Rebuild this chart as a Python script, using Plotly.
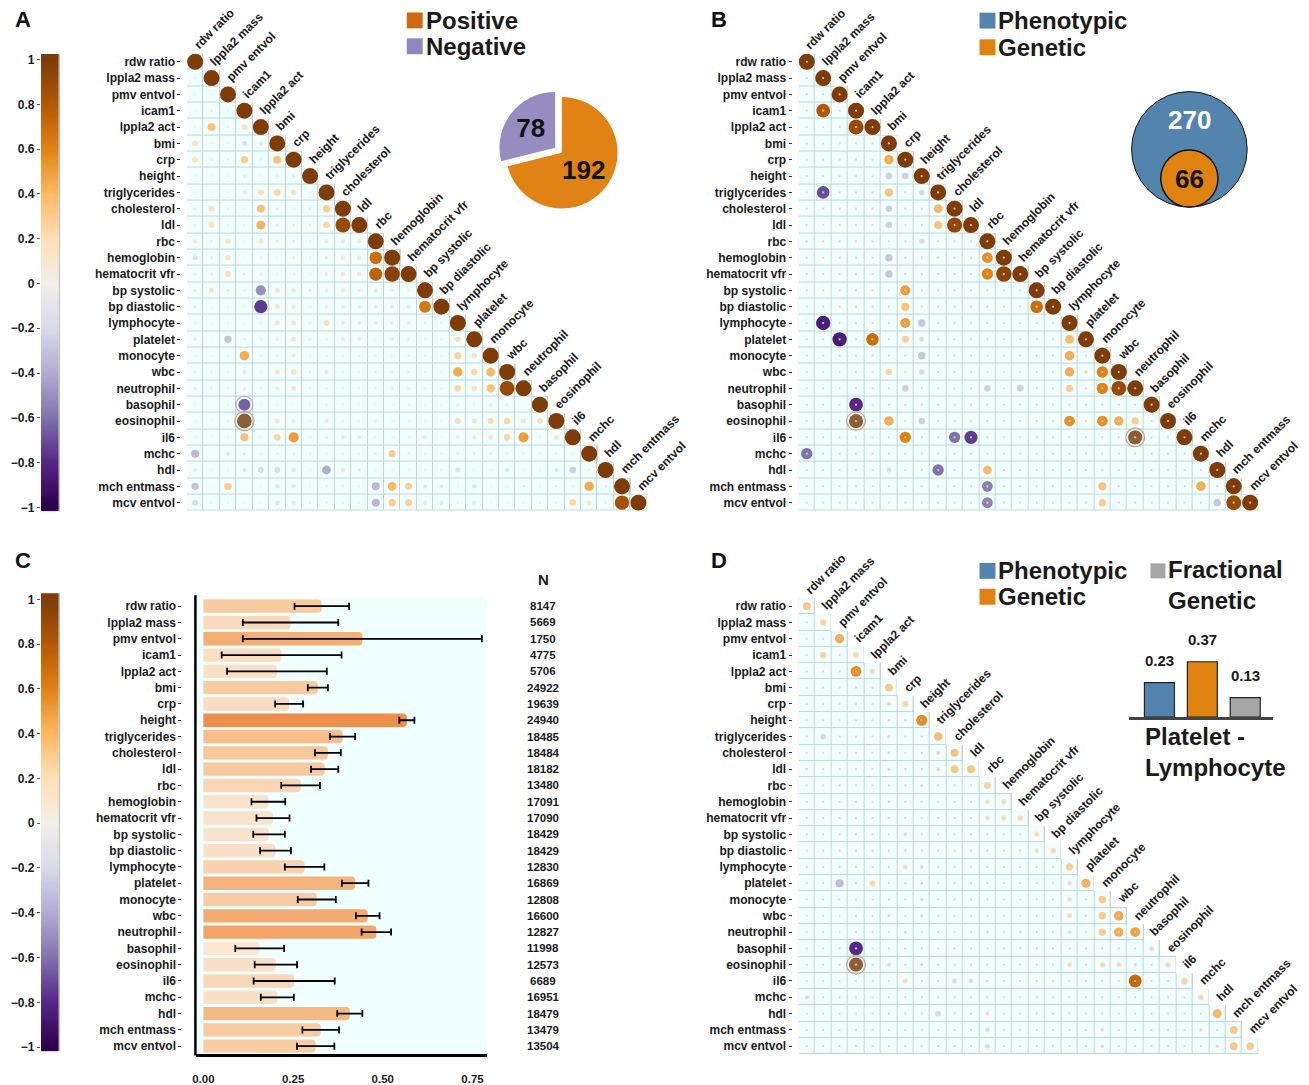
import numpy as np
import plotly.graph_objects as go

W, H = 1309, 1085

TRAITS = ["rdw ratio", "lppla2 mass", "pmv entvol", "icam1", "lppla2 act", "bmi", "crp",
          "height", "triglycerides", "cholesterol", "ldl", "rbc", "hemoglobin",
          "hematocrit vfr", "bp systolic", "bp diastolic", "lymphocyte", "platelet",
          "monocyte", "wbc", "neutrophil", "basophil", "eosinophil", "il6", "mchc", "hdl",
          "mch entmass", "mcv entvol"]

# Phenotypic correlations, lower triangle (row i holds columns 0..i)
PHENO_CORR = [
    [1],
    [0.02, 1],
    [0.02, 0.02, 1],
    [0.02, 0.04, 0.02, 1],
    [0.02, 0.35, 0.02, 0.2, 1],
    [0.2, 0.02, 0.02, -0.15, 0.12, 1],
    [0.2, -0.04, 0.02, 0.3, 0.04, 0.35, 1],
    [0.02, 0.02, 0.02, -0.08, 0.02, -0.06, -0.06, 1],
    [0.02, 0.02, 0.02, 0.1, 0.2, 0.25, 0.18, 0.02, 1],
    [-0.04, 0.2, 0.02, 0.02, 0.35, 0.05, 0.02, -0.05, 0.3, 1],
    [0.02, 0.2, 0.02, 0.02, 0.42, 0.08, 0.05, -0.05, 0.25, 0.9, 1],
    [0.12, 0.07, 0.18, 0.02, 0.15, 0.07, 0.06, 0.02, 0.1, 0.1, 0.1, 1],
    [-0.15, 0.07, 0.18, 0.02, 0.06, 0.02, -0.04, 0.02, 0.1, 0.12, 0.12, 0.7, 1],
    [-0.06, 0.07, 0.2, 0.06, 0.06, 0.03, 0.03, 0.02, 0.1, 0.12, 0.12, 0.75, 0.95, 1],
    [0.07, 0.15, 0.07, 0.07, -0.5, 0.15, 0.12, -0.05, 0.1, 0.1, 0.06, 0.1, 0.04, 0.04, 1],
    [0.07, 0.02, 0.02, 0.02, -0.75, 0.15, 0.12, 0.02, 0.1, 0.1, 0.08, 0.1, 0.12, 0.12, 0.65, 1],
    [0.02, 0.02, 0.02, 0.02, 0.02, 0.15, 0.15, -0.06, 0.2, 0.1, 0.1, 0.1, 0.08, 0.08, 0.04,
     0.04, 1],
    [0.08, 0.02, -0.3, -0.06, 0.03, 0.07, 0.15, -0.06, 0.03, 0.1, 0.1, 0.02, -0.06, -0.05,
     0.04, 0.06, 0.2, 1],
    [0.03, 0.02, 0.02, 0.45, 0.04, 0.06, 0.1, 0.02, 0.03, 0.03, 0.03, 0.04, 0.04, 0.06, 0.06,
     0.03, 0.28, 0.18, 1],
    [0.08, 0.06, 0.02, 0.1, 0.03, 0.15, 0.2, -0.04, 0.12, 0.02, 0.02, 0.07, 0.07, 0.06, 0.06,
     0.03, 0.45, 0.25, 0.4, 1],
    [0.08, 0.07, 0.02, 0.08, 0.02, 0.1, 0.15, 0.02, 0.06, 0.02, 0.02, 0.06, 0.06, 0.06, 0.06,
     0.03, 0.25, 0.18, 0.35, 0.9, 1],
    [0.02, 0.02, 0.02, -0.65, 0.02, 0.02, 0.02, 0.02, 0.06, 0.04, 0.02, 0.02, 0.02, 0.04,
     0.02, 0.02, 0.08, 0.02, 0.1, 0.06, 0.02, 1],
    [0.03, 0.02, 0.02, 0.85, 0.02, 0.15, 0.1, 0.02, 0.12, 0.02, 0.02, 0.04, 0.02, 0.02, 0.02,
     0.02, 0.22, 0.15, 0.22, 0.25, 0.15, 0.2, 1],
    [0.02, 0.02, 0.02, 0.35, 0.02, 0.25, 0.5, 0.02, 0.08, -0.1, -0.1, 0.02, 0.02, 0.02, 0.1,
     0.02, 0.08, 0.1, 0.15, 0.25, 0.5, 0.02, 0.15, 1],
    [-0.35, 0.02, -0.1, -0.07, 0.05, 0.05, 0.05, 0.02, 0.03, 0.03, 0.03, 0.06, 0.3, -0.04,
     0.02, 0.02, 0.06, -0.06, -0.04, -0.04, -0.04, 0.02, -0.04, 0.02, 1],
    [-0.08, 0.03, 0.02, -0.1, -0.2, -0.2, -0.12, 0.02, -0.4, 0.12, -0.08, 0.02, 0.02, 0.02,
     0.02, -0.03, -0.15, 0.02, 0.03, -0.12, 0.02, 0.02, -0.1, -0.25, 0.03, 1],
    [-0.3, 0.02, 0.3, 0.02, 0.02, -0.12, -0.1, 0.02, -0.04, 0.06, 0.02, -0.35, 0.4, 0.28,
     -0.1, -0.1, 0.02, -0.12, 0.02, -0.04, -0.04, 0.02, -0.04, 0.05, 0.45, 0.06, 1],
    [-0.2, 0.02, 0.02, 0.02, 0.02, -0.12, -0.1, 0.02, -0.04, 0.05, 0.02, -0.35, 0.3, 0.28,
     -0.1, -0.1, 0.02, -0.1, 0.02, 0.02, 0.02, -0.04, -0.04, 0.25, 0.12, 0.02, 0.85, 1],
]
PHENO_RINGS = [("basophil", "icam1"), ("eosinophil", "icam1")]

POSITIVE_PAIRS = 192
NEGATIVE_PAIRS = 78

# Significant genetic correlations (row trait, column trait, r)
GENETIC_SIG = [
    ("icam1", "lppla2 mass", 0.8), ("lppla2 act", "icam1", 0.9), ("crp", "bmi", 0.45),
    ("height", "bmi", -0.25), ("height", "crp", -0.25),
    ("triglycerides", "lppla2 mass", -0.7), ("triglycerides", "bmi", 0.35),
    ("triglycerides", "height", -0.18),
    ("cholesterol", "bmi", -0.25), ("cholesterol", "triglycerides", 0.4),
    ("ldl", "bmi", -0.25), ("ldl", "triglycerides", 0.35), ("ldl", "cholesterol", 0.92),
    ("rbc", "height", -0.18),
    ("hemoglobin", "bmi", -0.3), ("hemoglobin", "rbc", 0.55),
    ("hematocrit vfr", "bmi", -0.3), ("hematocrit vfr", "rbc", 0.6),
    ("hematocrit vfr", "hemoglobin", 0.95),
    ("bp systolic", "crp", 0.5),
    ("bp diastolic", "crp", 0.35), ("bp diastolic", "bp systolic", 0.7),
    ("lymphocyte", "lppla2 mass", -0.85), ("lymphocyte", "crp", 0.5),
    ("lymphocyte", "height", -0.3),
    ("platelet", "pmv entvol", -0.85), ("platelet", "lppla2 act", 0.7), ("platelet", "crp", 0.28),
    ("platelet", "height", -0.15), ("platelet", "lymphocyte", 0.4),
    ("monocyte", "height", -0.3), ("monocyte", "lymphocyte", 0.45),
    ("wbc", "bmi", 0.25), ("wbc", "height", -0.18), ("wbc", "lymphocyte", 0.45),
    ("wbc", "platelet", 0.12), ("wbc", "monocyte", 0.6),
    ("neutrophil", "crp", -0.25), ("neutrophil", "rbc", -0.25),
    ("neutrophil", "hematocrit vfr", -0.25), ("neutrophil", "lymphocyte", 0.3),
    ("neutrophil", "monocyte", 0.6), ("neutrophil", "wbc", 0.9),
    ("basophil", "icam1", -0.8),
    ("eosinophil", "icam1", 0.8), ("eosinophil", "bmi", 0.45), ("eosinophil", "height", -0.25),
    ("eosinophil", "lymphocyte", 0.55), ("eosinophil", "monocyte", 0.55),
    ("eosinophil", "wbc", 0.45), ("eosinophil", "neutrophil", 0.3),
    ("il6", "crp", 0.6), ("il6", "cholesterol", -0.6), ("il6", "ldl", -0.75),
    ("il6", "neutrophil", 0.8),
    ("mchc", "rdw ratio", -0.6),
    ("hdl", "bmi", -0.15), ("hdl", "triglycerides", -0.6), ("hdl", "rbc", 0.4),
    ("mch entmass", "rbc", -0.55), ("mch entmass", "monocyte", 0.35),
    ("mch entmass", "mchc", 0.45),
    ("mcv entvol", "rbc", -0.55), ("mcv entvol", "monocyte", 0.3), ("mcv entvol", "hdl", -0.3),
    ("mcv entvol", "mch entmass", 0.9),
]
GENETIC_RINGS = [("eosinophil", "icam1"), ("il6", "neutrophil")]
PHENO_SIG = 270

# SNP heritability, standard error and sample size per trait
H2 = [0.33, 0.243, 0.443, 0.218, 0.205, 0.319, 0.239, 0.567, 0.388, 0.347, 0.338, 0.271,
      0.181, 0.194, 0.183, 0.201, 0.282, 0.423, 0.316, 0.458, 0.482, 0.157, 0.202, 0.253,
      0.206, 0.408, 0.327, 0.313]
H2_SE = [0.076, 0.133, 0.333, 0.167, 0.139, 0.028, 0.039, 0.021, 0.035, 0.036, 0.038, 0.054,
         0.047, 0.046, 0.044, 0.043, 0.055, 0.037, 0.053, 0.033, 0.041, 0.068, 0.059, 0.113,
         0.046, 0.035, 0.051, 0.052]
N_SAMPLES = [8147, 5669, 1750, 4775, 5706, 24922, 19639, 24940, 18485, 18484, 18182, 13480,
             17091, 17090, 18429, 18429, 12830, 16869, 12808, 16600, 12827, 11998, 12573, 6689,
             16951, 18479, 13479, 13504]

# Genetic contribution to the phenotypic correlations
FRACTION_SIG = [
    ("icam1", "lppla2 mass", 0.25), ("lppla2 act", "icam1", 0.55), ("crp", "bmi", 0.14),
    ("height", "bmi", -0.05), ("height", "crp", -0.05),
    ("triglycerides", "lppla2 mass", -0.2), ("triglycerides", "bmi", 0.1),
    ("triglycerides", "height", -0.05),
    ("cholesterol", "bmi", -0.06), ("cholesterol", "triglycerides", 0.14),
    ("ldl", "bmi", -0.06), ("ldl", "triglycerides", 0.12), ("ldl", "cholesterol", 0.33),
    ("rbc", "height", -0.05),
    ("hemoglobin", "bmi", -0.06), ("hemoglobin", "rbc", 0.15),
    ("hematocrit vfr", "bmi", -0.06), ("hematocrit vfr", "rbc", 0.15),
    ("hematocrit vfr", "hemoglobin", 0.18),
    ("bp systolic", "crp", 0.1),
    ("bp diastolic", "crp", 0.08), ("bp diastolic", "bp systolic", 0.15),
    ("lymphocyte", "crp", 0.15), ("lymphocyte", "height", -0.1),
    ("platelet", "pmv entvol", -0.35), ("platelet", "lppla2 act", 0.22),
    ("platelet", "crp", 0.07), ("platelet", "height", -0.06), ("platelet", "lymphocyte", 0.15),
    ("monocyte", "height", -0.08), ("monocyte", "lymphocyte", 0.15),
    ("wbc", "bmi", 0.1), ("wbc", "height", -0.06), ("wbc", "lymphocyte", 0.18),
    ("wbc", "platelet", 0.05), ("wbc", "monocyte", 0.3),
    ("neutrophil", "crp", -0.06), ("neutrophil", "rbc", -0.06),
    ("neutrophil", "hematocrit vfr", -0.06), ("neutrophil", "lymphocyte", 0.12),
    ("neutrophil", "monocyte", 0.3), ("neutrophil", "wbc", 0.45),
    ("basophil", "icam1", -0.8),
    ("eosinophil", "icam1", 0.8), ("eosinophil", "bmi", 0.12), ("eosinophil", "height", -0.06),
    ("eosinophil", "lymphocyte", 0.15), ("eosinophil", "monocyte", 0.18),
    ("eosinophil", "wbc", 0.15), ("eosinophil", "neutrophil", 0.08),
    ("il6", "crp", 0.15), ("il6", "cholesterol", -0.15), ("il6", "ldl", -0.15),
    ("il6", "neutrophil", 0.72),
    ("mchc", "rdw ratio", -0.12),
    ("hdl", "bmi", -0.05), ("hdl", "triglycerides", -0.2), ("hdl", "rbc", 0.12),
    ("mch entmass", "rbc", -0.15), ("mch entmass", "monocyte", 0.1),
    ("mch entmass", "mchc", 0.1),
    ("mcv entvol", "rbc", -0.15), ("mcv entvol", "monocyte", 0.1), ("mcv entvol", "hdl", -0.08),
    ("mcv entvol", "mch entmass", 0.33),
]
FRACTION_RINGS = [("eosinophil", "icam1")]

PAIR_LABELS = ["Phenotypic", "Genetic", "Fractional Genetic"]
PAIR_VALUES = [0.23, 0.37, 0.13]
PAIR_NAME = "Platelet -<br>Lymphocyte"

# ---------------------------------------------------------------- styling
FONT = "Liberation Sans, Arial, sans-serif"
INK = "#1a1a1a"
GRID_LINE = "#C8D4D4"
CELL_FILL = "#F0FFFF"
PUOR = [[0.0, "#2D004B"], [0.1, "#542788"], [0.2, "#8073AC"], [0.3, "#B2ABD2"],
        [0.4, "#D8DAEB"], [0.5, "#F2EEEA"], [0.6, "#FEE0B6"], [0.7, "#FDB863"],
        [0.8, "#E08214"], [0.9, "#B35806"], [1.0, "#7F3B08"]]
BAR_SCALE = [[0.0, "#FBE8D6"], [0.25, "#F9D7B6"], [0.5, "#F7C28F"], [0.75, "#F4A264"],
             [1.0, "#EE8640"]]
BLUE, ORANGE, GREY = "#5384AD", "#E0820F", "#A6A6A6"
RING_BROWN = "#8E5D36"
CB_TICKS = [-1, -0.8, -0.6, -0.4, -0.2, 0, 0.2, 0.4, 0.6, 0.8, 1]
CB_TEXT = ["−1", "−0.8", "−0.6", "−0.4", "−0.2", "0", "0.2", "0.4", "0.6", "0.8", "1"]

NT = len(TRAITS)
IDX = {t: i for i, t in enumerate(TRAITS)}


def px_x(x):
    return x / W


def px_y(y):
    return 1 - y / H


def axname(prefix, k):
    return prefix if k == 1 else f"{prefix}{k}"


def dot_size(r):
    return 1.5 + 14.5 * abs(r) ** 0.75


def bold(size, color=INK):
    return dict(family=FONT, size=size, color=color, weight="bold")


def paper_text(x, y, text, size, color=INK, xanchor="center", align="center"):
    annotations.append(dict(x=px_x(x), y=px_y(y), xref="paper", yref="paper", text=text,
                            xanchor=xanchor, yanchor="middle", align=align,
                            showarrow=False, font=bold(size, color)))


fig = go.Figure()
shapes = []
annotations = []


def add_matrix(k, cells, rings, tiny, x0, x1, y0, y1, label_x):
    xa, ya = axname("x", k), axname("y", k)
    mask = [[1 if j <= i else None for j in range(NT)] for i in range(NT)]
    for color, gap in ((GRID_LINE, 0), (CELL_FILL, 1)):
        fig.add_trace(go.Heatmap(z=mask, x=list(range(NT)), y=list(range(NT)), zmin=0, zmax=1,
                                 colorscale=[[0, color], [1, color]], showscale=False,
                                 xgap=gap, ygap=gap, hoverinfo="skip", xaxis=xa, yaxis=ya))
    rows = [c[0] for c in cells]
    cols = [c[1] for c in cells]
    vals = [c[2] for c in cells]
    fig.add_trace(go.Scatter(
        x=cols, y=rows, mode="markers", hoverinfo="skip", xaxis=xa, yaxis=ya,
        marker=dict(color=vals, colorscale=PUOR, cmin=-1, cmax=1, opacity=1,
                    size=[dot_size(v) for v in vals], line=dict(width=0))))
    lookup = {(c[0], c[1]): c[2] for c in cells}
    for rname, cname in rings:
        r, c = IDX[rname], IDX[cname]
        v = lookup[(r, c)]
        if v > 0:
            # highlighted positive pairs are shown in a muted brown
            fig.add_trace(go.Scatter(
                x=[c], y=[r], mode="markers", hoverinfo="skip", xaxis=xa, yaxis=ya,
                marker=dict(size=dot_size(v), color=RING_BROWN, opacity=1,
                            line=dict(width=0))))
        fig.add_trace(go.Scatter(
            x=[c], y=[r], mode="markers", hoverinfo="skip", xaxis=xa, yaxis=ya,
            marker=dict(symbol="circle-open", size=dot_size(v) + 5, opacity=1,
                        color="#B3A6D6" if v < 0 else "#BFA890", line=dict(width=1.2))))
    if tiny:
        tx = [j for i in range(NT) for j in range(i + 1)]
        ty = [i for i in range(NT) for j in range(i + 1)]
        fig.add_trace(go.Scatter(x=tx, y=ty, mode="markers", hoverinfo="skip",
                                 xaxis=xa, yaxis=ya,
                                 marker=dict(size=2.2, opacity=1,
                                             color="rgba(238,200,192,0.95)")))
    fig.update_layout({
        axname("xaxis", k): dict(domain=[px_x(x0), px_x(x1)], range=[-0.5, NT - 0.5],
                                 visible=False, anchor=ya),
        axname("yaxis", k): dict(domain=[px_y(y1), px_y(y0)], range=[NT - 0.5, -0.5],
                                 anchor="free", position=px_x(label_x),
                                 tickvals=list(range(NT)), ticktext=TRAITS,
                                 ticks="outside", ticklen=3, tickcolor="#333",
                                 showgrid=False, zeroline=False, showline=False,
                                 tickfont=bold(12)),
    })
    for j, name in enumerate(TRAITS):
        annotations.append(dict(x=j - 0.42, y=j - 0.42, xref=xa, yref=ya, text=name,
                                textangle=-45, xanchor="left", yanchor="bottom",
                                showarrow=False, font=bold(12)))


def add_colorbar(k, y_top, y_bot, v_top, v_bot):
    xa, ya = axname("x", k), axname("y", k)
    lv = np.linspace(v_bot, v_top, 420)
    fig.add_trace(go.Heatmap(z=[[float(np.clip(v, -1, 1))] for v in lv], x=[0], y=lv,
                             zmin=-1, zmax=1, colorscale=PUOR, showscale=False,
                             hoverinfo="skip", xaxis=xa, yaxis=ya))
    fig.update_layout({
        axname("xaxis", k): dict(domain=[px_x(37), px_x(55)], range=[-0.5, 0.5],
                                 visible=False, anchor=ya),
        axname("yaxis", k): dict(domain=[px_y(y_bot), px_y(y_top)], range=[v_bot, v_top],
                                 anchor=xa, side="left", tickvals=CB_TICKS, ticktext=CB_TEXT,
                                 ticks="outside", ticklen=3, tickcolor="#555",
                                 showgrid=False, zeroline=False, showline=False,
                                 tickfont=bold(12)),
    })
    shapes.append(dict(type="line", xref="paper", yref="paper", x0=px_x(55.5), x1=px_x(55.5),
                       y0=px_y(y_top), y1=px_y(y_bot), line=dict(color="#B8B0A8", width=1)))


def legend_entry(x, y, color, text):
    shapes.append(dict(type="rect", xref="paper", yref="paper", x0=px_x(x), x1=px_x(x + 16),
                       y0=px_y(y + 8), y1=px_y(y - 8), fillcolor=color, line=dict(width=0)))
    paper_text(x + 17, y, text, 24, xanchor="left", align="left")


# ---------------------------------------------------------------- A: phenotypic
pheno_cells = [(i, j, v) for i, row in enumerate(PHENO_CORR) for j, v in enumerate(row)]
add_matrix(1, pheno_cells, PHENO_RINGS, False, 183.5, 644.6, 52.8, 512.2, 177)
add_colorbar(5, 53.3, 512.7, 1.025, -1.018)

fig.add_trace(go.Pie(
    values=[POSITIVE_PAIRS, NEGATIVE_PAIRS], labels=["Positive", "Negative"], sort=False,
    direction="clockwise", rotation=0, pull=[0, 0.15],
    marker=dict(colors=["#E08214", "#978CC2"], line=dict(width=0)),
    textinfo="value", textposition="inside", insidetextorientation="horizontal",
    textfont=bold(26, "#111"), hoverinfo="skip", showlegend=False,
    domain=dict(x=[px_x(559.5 - 64.4), px_x(559.5 + 64.4)],
                y=[px_y(152.5 + 64.4), px_y(152.5 - 64.4)])))
legend_entry(404, 19.5, "#CC6A0E", "Positive")
legend_entry(404, 45.5, "#8F88C0", "Negative")

# ---------------------------------------------------------------- B: genetic
gen_cells = [(i, i, 1.0) for i in range(NT)] + \
            [(IDX[a], IDX[b], v) for a, b, v in GENETIC_SIG]
add_matrix(2, gen_cells, GENETIC_RINGS, True, 797, 1258.2, 52.8, 512.2, 790)
legend_entry(978.5, 19.7, BLUE, "Phenotypic")
legend_entry(978.5, 46.5, ORANGE, "Genetic")

big_r = 58
small_r = big_r * np.sqrt(len(GENETIC_SIG) / PHENO_SIG)
vcx, vcy = 1189, 149
shapes.append(dict(type="circle", xref="paper", yref="paper",
                   x0=px_x(vcx - big_r), x1=px_x(vcx + big_r),
                   y0=px_y(vcy + big_r), y1=px_y(vcy - big_r),
                   fillcolor=BLUE, line=dict(color="#111", width=1)))
scy = vcy + big_r - small_r
shapes.append(dict(type="circle", xref="paper", yref="paper",
                   x0=px_x(vcx - small_r), x1=px_x(vcx + small_r),
                   y0=px_y(scy + small_r), y1=px_y(scy - small_r),
                   fillcolor=ORANGE, line=dict(color="#111", width=1.5)))
paper_text(vcx, 120, str(PHENO_SIG), 26, "white")
paper_text(vcx, scy + 1, str(len(GENETIC_SIG)), 26, "#111")

# ---------------------------------------------------------------- C: heritability
rows_idx = list(range(NT))
fig.add_trace(go.Bar(
    x=H2, y=rows_idx, orientation="h", width=0.82, xaxis="x3", yaxis="y3", hoverinfo="skip",
    marker=dict(color=H2, colorscale=BAR_SCALE, cmin=0.15, cmax=0.6, cornerradius=4,
                line=dict(width=0)),
    error_x=dict(type="data", array=H2_SE, color="black", thickness=1.8, width=3.5)))
fig.update_layout(
    xaxis3=dict(domain=[px_x(193), px_x(484)], range=[-0.0194, 0.789], anchor="y3",
                tickvals=[0, 0.25, 0.5, 0.75], ticktext=["0.00", "0.25", "0.50", "0.75"],
                ticks="outside", ticklen=12, tickcolor="rgba(0,0,0,0)",
                showline=True, linewidth=2.5, linecolor="black",
                showgrid=False, zeroline=False, tickfont=bold(11.5)),
    yaxis3=dict(domain=[px_y(1058.2), px_y(599.8)], range=[NT - 0.5, -0.5],
                anchor="free", position=px_x(178), tickvals=rows_idx, ticktext=TRAITS,
                ticks="outside", ticklen=3, tickcolor="#333", showgrid=False,
                zeroline=False, showline=False, tickfont=bold(12)),
)
shapes.append(dict(type="rect", xref="x3 domain", yref="y3 domain", x0=0, x1=1, y0=0, y1=1,
                   fillcolor=CELL_FILL, line=dict(width=0), layer="below"))
shapes.append(dict(type="line", xref="paper", yref="paper", x0=px_x(192), x1=px_x(192),
                   y0=px_y(597), y1=px_y(1059.5), line=dict(color="black", width=2.5)))
add_colorbar(6, 595, 1055, 1.027, -1.018)
paper_text(541, 581, "N", 15)
for i, n in enumerate(N_SAMPLES):
    annotations.append(dict(x=px_x(541), y=i, xref="paper", yref="y3", text=str(n),
                            xanchor="center", yanchor="middle", showarrow=False,
                            font=bold(11.5)))

# ---------------------------------------------------------------- D: genetic fraction
frac_cells = [(i, i, H2[i]) for i in range(NT)] + \
             [(IDX[a], IDX[b], v) for a, b, v in FRACTION_SIG]
add_matrix(4, frac_cells, FRACTION_RINGS, True, 797, 1258.2, 599.8, 1058.2, 790)
legend_entry(978.5, 572.5, BLUE, "Phenotypic")
legend_entry(978.5, 598.5, ORANGE, "Genetic")
shapes.append(dict(type="rect", xref="paper", yref="paper", x0=px_x(1150), x1=px_x(1165),
                   y0=px_y(580), y1=px_y(565), fillcolor=GREY, line=dict(width=0)))
paper_text(1166, 587, "Fractional<br>Genetic", 24, xanchor="left", align="left")

fig.add_trace(go.Bar(
    x=[0, 1, 2], y=PAIR_VALUES, width=0.7, xaxis="x7", yaxis="y7", hoverinfo="skip",
    marker=dict(color=[BLUE, ORANGE, GREY], line=dict(color="#222", width=1.2))))
fig.update_layout(
    xaxis7=dict(domain=[px_x(1128), px_x(1273)], range=[-0.72, 2.65], anchor="y7",
                showline=True, linewidth=2.5, linecolor="#444", showticklabels=False,
                ticks="", showgrid=False, zeroline=False),
    yaxis7=dict(domain=[px_y(719.3), px_y(619.3)], range=[0, 0.667], anchor="x7",
                visible=False),
)
for i, v in enumerate(PAIR_VALUES):
    annotations.append(dict(x=i, y=v, xref="x7", yref="y7", text=f"{v:.2f}", yshift=22,
                            xanchor="center", yanchor="middle",
                            showarrow=False, font=bold(15)))
paper_text(1142, 754, PAIR_NAME, 24, xanchor="left", align="left")

# ---------------------------------------------------------------- panel letters
for letter, x, y in (("A", 19, 19), ("B", 717, 19), ("C", 19, 562), ("D", 717, 562)):
    paper_text(x, y, letter, 22, "#111")

fig.update_layout(
    width=W, height=H, margin=dict(l=0, r=0, t=0, b=0), autosize=False,
    paper_bgcolor="white", plot_bgcolor="white", showlegend=False, hovermode=False,
    shapes=shapes, annotations=annotations, font=dict(family=FONT, color=INK),
)

fig.write_html("out.html", config={"displayModeBar": False})
